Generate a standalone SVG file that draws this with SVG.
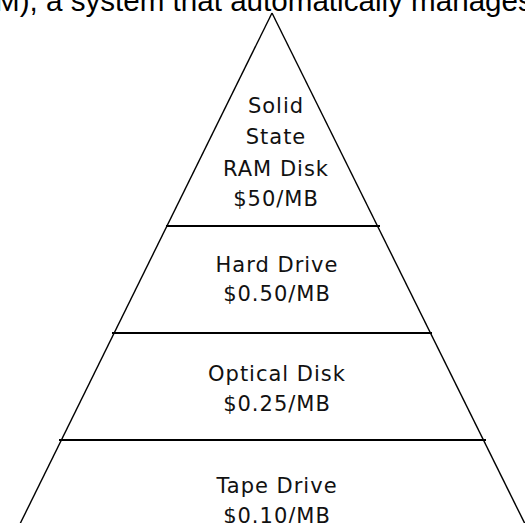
<svg xmlns="http://www.w3.org/2000/svg" width="525" height="523" viewBox="0 0 525 523">
<style>
.top{font-family:"Liberation Sans",Arial,sans-serif;font-size:29.6px;fill:#000}
.lbl{font-family:"DejaVu Sans",sans-serif;font-size:21px;fill:#111;text-anchor:middle;letter-spacing:1px}
.side{stroke:#000;stroke-width:1.4;fill:none}
.tier{stroke:#000;stroke-width:2;fill:none}
</style>
<rect width="525" height="523" fill="#fff"/>
<text class="top" x="-5" y="11">M), a system that automatically manages</text>
<g id="connectors">
<line class="side" x1="272" y1="13" x2="17" y2="530"/>
<line class="side" x1="272" y1="13" x2="528" y2="530"/>
</g>
<g id="tier-solid-state">
<line class="tier" x1="166" y1="226" x2="380" y2="226"/>
<text class="lbl" x="276" y="113">Solid</text>
<text class="lbl" x="276" y="144">State</text>
<text class="lbl" x="276" y="176">RAM Disk</text>
<text class="lbl" x="276" y="206">$50/MB</text>
</g>
<g id="tier-hard-drive">
<line class="tier" x1="112" y1="333" x2="432" y2="333"/>
<text class="lbl" x="277" y="272">Hard Drive</text>
<text class="lbl" x="277" y="301">$0.50/MB</text>
</g>
<g id="tier-optical-disk">
<line class="tier" x1="59" y1="440" x2="486" y2="440"/>
<text class="lbl" x="277" y="381">Optical Disk</text>
<text class="lbl" x="277" y="411">$0.25/MB</text>
</g>
<g id="tier-tape-drive">
<text class="lbl" x="277" y="493">Tape Drive</text>
<text class="lbl" x="277" y="523">$0.10/MB</text>
</g>
</svg>
